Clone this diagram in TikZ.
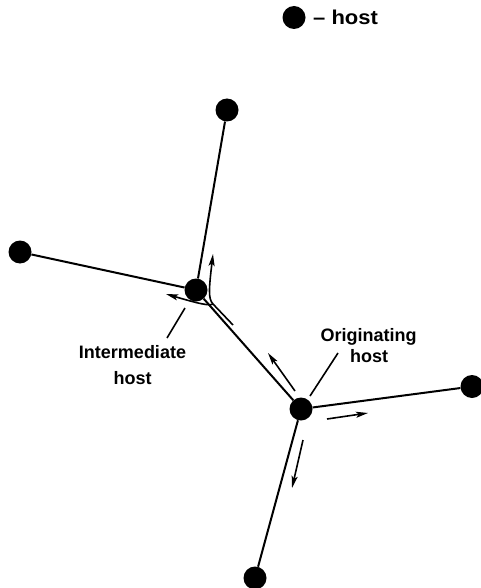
\documentclass[tikz,border=0pt]{standalone}
\usepackage{fontspec}
\setmainfont{Liberation Sans}
\usetikzlibrary{arrows.meta}
\begin{document}
\begin{tikzpicture}[x=1pt,y=-1pt,
  host/.style={circle,fill=black,inner sep=0pt,minimum size=23pt},
  link/.style={line width=2pt},
  flow/.style={line width=1.6pt,-{Stealth[length=12pt,width=6pt,inset=2.5pt]}},
  pointer/.style={line width=1.6pt},
  lbl/.style={font=\fontsize{18}{20}\selectfont\bfseries,anchor=base,inner sep=0pt}]
\useasboundingbox (0,0) rectangle (481,588);

% key
\node[host] (key) at (294,17.5) {};
\node[font=\fontsize{20}{22}\selectfont\bfseries,anchor=base west,inner sep=0pt,xscale=1.1]
  (keytext) at (313,25) {\textendash\ host};

% hosts
\node[host] (top)    at (227,110)   {};
\node[host] (left)   at (20,252)    {};
\node[host] (inter)  at (196,290)   {};
\node[host] (orig)   at (301,409)   {};
\node[host] (right)  at (472,386.5) {};
\node[host] (bottom) at (255,578)   {};

% links
\draw[link] (top) -- (inter);
\draw[link] (left) -- (inter);
\draw[link] (inter) -- (orig);
\draw[link] (orig) -- (right);
\draw[link] (orig) -- (bottom);

% message flow at the intermediate host
\coordinate (fa) at (233,325);
\coordinate (fb) at (213,304);
\coordinate (fup) at (213,254);
\coordinate (fleft) at (166,294);
\draw[flow] (fa) -- (fb) .. controls (208,299) and (209,288) .. (fup);
\draw[flow] (fb) .. controls (209,306) and (200,304) .. (fleft);

% message flow out of the originating host
\coordinate (o1s) at (295,391);
\coordinate (o1e) at (268,353);
\coordinate (o2s) at (327,419);
\coordinate (o2e) at (368,413);
\coordinate (o3s) at (303,440);
\coordinate (o3e) at (292,488);
\draw[flow] (o1s) -- (o1e);
\draw[flow] (o2s) -- (o2e);
\draw[flow] (o3s) -- (o3e);

% labels
\node[lbl] (interA) at (132.5,358) {Intermediate};
\node[lbl] (interB) at (132.5,384) {host};
\node[lbl] (origA)  at (368.5,341.7) {Originating};
\node[lbl] (origB)  at (369,362.5) {host};
\coordinate (pi1) at (185,308);
\coordinate (pi2) at (167,338);
\coordinate (po1) at (338,353);
\coordinate (po2) at (310,396);
\draw[pointer] (pi1) -- (pi2);
\draw[pointer] (po1) -- (po2);
\end{tikzpicture}
\end{document}
